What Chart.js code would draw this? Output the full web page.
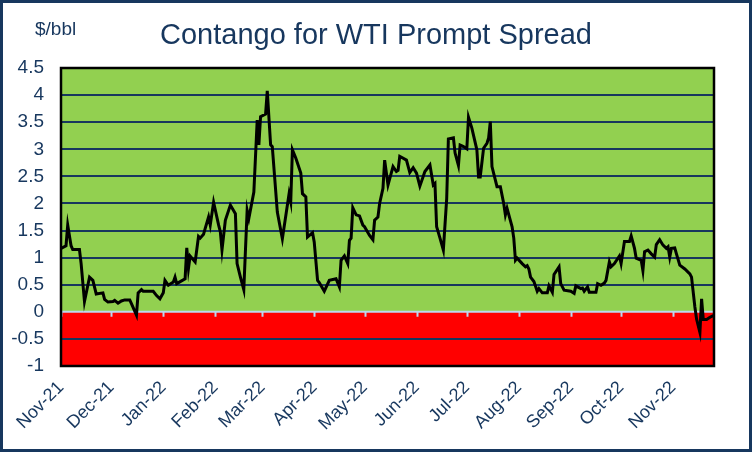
<!DOCTYPE html>
<html>
<head>
<meta charset="utf-8">
<script src="https://cdn.jsdelivr.net/npm/chart.js@4/dist/chart.umd.min.js"></script>
<style>
  html, body { margin: 0; padding: 0; background: #ffffff; }
  #wrap { width: 752px; height: 452px; position: relative; }
</style>
</head>
<body>
<div id="wrap"><canvas id="c" width="752" height="452"></canvas></div>
<script>
// Days since 1 Nov 2021 for each observation
const dayOffsets = [
  0,3,4,6,7,11,12,14,17,19,21,25,26,28,31,32,34,36,38,41,42,45,46,48,49,55,57,59,
  61,62,64,67,68,69,74,75,76,77,80,82,83,85,86,88,89,91,94,95,96,98,101,104,105,107,109,
  111,112,115,117,118,119,122,123,125,126,129,132,136,137,138,140,143,144,146,147,150,
  151,153,154,157,160,164,166,167,169,171,172,173,174,176,178,180,181,184,186,187,189,
  190,192,193,195,198,200,201,202,206,208,210,212,214,217,220,222,223,224,226,228,230,
  231,234,235,237,238,240,242,243,245,248,249,250,252,254,255,256,257,260,262,264,265,
  266,269,270,271,272,275,277,278,279,280,282,284,285,287,290,291,293,294,297,298,300,
  304,306,307,310,311,312,314,315,319,320,322,324,325,327,328,330,333,334,336,339,340,
  342,343,346,347,348,350,352,354,355,357,359,361,362,363,364,366,367,369,372,375,376,
  378,379,381,382,383,385,387,389
];
// WTI prompt spread, $/bbl
const spread = [
  1.17,1.22,1.60,1.22,1.15,1.15,0.89,0.19,0.64,0.58,0.33,0.35,0.23,0.18,0.19,0.21,0.16,0.20,0.22,0.22,0.15,-0.06,0.35,0.41,0.38,0.38,0.30,0.24,
  0.35,0.58,0.49,0.55,0.64,0.52,0.61,1.18,0.80,1.03,0.92,1.39,1.36,1.43,1.54,1.75,1.60,2.02,1.60,1.48,1.14,1.69,1.97,1.81,0.89,0.64,0.41,
  1.87,1.72,2.21,3.54,3.08,3.60,3.65,4.08,3.08,3.05,1.84,1.35,2.18,2.03,2.99,2.84,2.56,2.18,2.12,1.38,1.46,
  1.29,0.58,0.54,0.38,0.58,0.61,0.46,0.95,1.03,0.89,1.32,1.36,1.92,1.79,1.77,1.60,1.57,1.41,1.33,1.69,1.75,
  2.00,2.28,2.80,2.34,2.68,2.59,2.61,2.87,2.80,2.57,2.66,2.56,2.32,2.59,2.71,2.34,2.37,1.57,1.36,1.14,2.09,
  3.19,3.21,2.93,2.70,3.08,3.05,3.01,3.59,3.39,2.99,2.49,2.49,3.02,3.11,3.21,3.51,2.68,2.31,2.31,2.00,1.79,
  1.91,1.57,1.36,0.95,0.99,0.89,0.83,0.85,0.79,0.64,0.56,0.38,0.43,0.35,0.35,0.48,0.36,0.69,0.83,0.52,0.40,
  0.38,0.34,0.48,0.43,0.44,0.38,0.46,0.36,0.36,0.52,0.49,0.53,0.58,0.92,0.83,0.89,1.03,0.89,1.30,1.30,1.40,
  1.17,0.99,0.95,0.76,1.11,1.14,1.07,1.01,1.24,1.33,1.23,1.17,1.20,1.01,1.17,1.18,1.07,0.86,0.79,0.70,0.64,
  0.09,-0.13,-0.38,0.24,-0.14,-0.14,-0.10,-0.07
];
// Month tick positions (days since 1 Nov 2021) and labels
const monthDays = [0,30,61,92,120,151,181,212,242,273,304,334,365];
const monthLabels = ['Nov-21','Dec-21','Jan-22','Feb-22','Mar-22','Apr-22','May-22','Jun-22','Jul-22','Aug-22','Sep-22','Oct-22','Nov-22'];
const yMin = -1, yMax = 4.5, yStep = 0.5;
const xMax = 389.4;
const titleText = 'Contango for WTI Prompt Spread';
const unitText = '$/bbl';

const NAVY = '#17375E';
const GREEN = '#92D050';
const RED = '#FF0000';
const ZERO = '#BDD7EE';
const FONT = '"Liberation Sans", Arial, sans-serif';

const bandsPlugin = {
  id: 'bands',
  beforeDraw(chart) {
    const { ctx, chartArea: a, scales: { y } } = chart;
    ctx.save();
    ctx.fillStyle = '#ffffff';
    ctx.fillRect(0, 0, chart.width, chart.height);
    const y0 = y.getPixelForValue(0);
    ctx.fillStyle = GREEN;
    ctx.fillRect(a.left, a.top, a.right - a.left, y0 - a.top);
    ctx.fillStyle = RED;
    ctx.fillRect(a.left, y0, a.right - a.left, a.bottom - y0);
    ctx.restore();
  },
  beforeDatasetsDraw(chart) {
    const { ctx, chartArea: a, scales: { x, y } } = chart;
    const y0 = y.getPixelForValue(0);
    ctx.save();
    ctx.strokeStyle = ZERO;
    ctx.lineWidth = 2;
    ctx.beginPath();
    ctx.moveTo(a.left, y0);
    ctx.lineTo(a.right, y0);
    ctx.stroke();
    ctx.beginPath();
    monthDays.forEach(d => {
      const px = Math.round(x.getPixelForValue(d)) + 0.5;
      ctx.moveTo(px, y0);
      ctx.lineTo(px, y0 + 5);
    });
    ctx.stroke();
    ctx.restore();
  },
  afterDraw(chart) {
    const { ctx, chartArea: a } = chart;
    ctx.save();
    ctx.strokeStyle = '#000000';
    ctx.lineWidth = 2.5;
    ctx.strokeRect(a.left, a.top, a.right - a.left, a.bottom - a.top);
    ctx.strokeStyle = NAVY;
    ctx.lineWidth = 3;
    ctx.strokeRect(1.5, 1.5, chart.width - 3, chart.height - 3);
    ctx.fillStyle = NAVY;
    ctx.textBaseline = 'alphabetic';
    ctx.font = '29px ' + FONT;
    ctx.textAlign = 'center';
    ctx.fillText(titleText, 376, 44);
    ctx.font = '19px ' + FONT;
    ctx.textAlign = 'left';
    ctx.fillText(unitText, 35, 35);
    ctx.restore();
  }
};

new Chart(document.getElementById('c'), {
  type: 'line',
  data: {
    datasets: [{
      label: 'WTI prompt spread',
      data: dayOffsets.map((d, i) => ({ x: d, y: spread[i] })),
      borderColor: '#000000',
      borderWidth: 3,
      pointRadius: 0,
      tension: 0,
      fill: false
    }]
  },
  options: {
    responsive: false,
    animation: false,
    devicePixelRatio: 1,
    layout: { padding: { left: 0, right: 38, top: 68, bottom: 0 } },
    plugins: {
      legend: { display: false },
      tooltip: { enabled: false },
      title: { display: false }
    },
    scales: {
      x: {
        type: 'linear',
        min: 0,
        max: xMax,
        afterBuildTicks(scale) { scale.ticks = monthDays.map(v => ({ value: v })); },
        afterFit(scale) { scale.height = 86; },
        grid: { display: false },
        border: { display: false },
        ticks: {
          autoSkip: false,
          maxRotation: 45,
          minRotation: 45,
          padding: 3,
          color: NAVY,
          font: { family: FONT, size: 18 },
          callback(v) { const i = monthDays.indexOf(v); return i >= 0 ? monthLabels[i] : ''; }
        }
      },
      y: {
        min: yMin,
        max: yMax,
        afterFit(scale) { scale.width = 61; },
        border: { display: false },
        grid: {
          drawTicks: false,
          lineWidth: 2,
          color(ctx) {
            const v = ctx.tick && ctx.tick.value;
            if (v === 0 || v === yMin || v === yMax) return 'rgba(0,0,0,0)';
            return NAVY;
          }
        },
        ticks: {
          stepSize: yStep,
          padding: 17,
          color: NAVY,
          font: { family: FONT, size: 19 },
          callback(v) { return String(Math.round(v * 10) / 10); }
        }
      }
    }
  },
  plugins: [bandsPlugin]
});
</script>
</body>
</html>
